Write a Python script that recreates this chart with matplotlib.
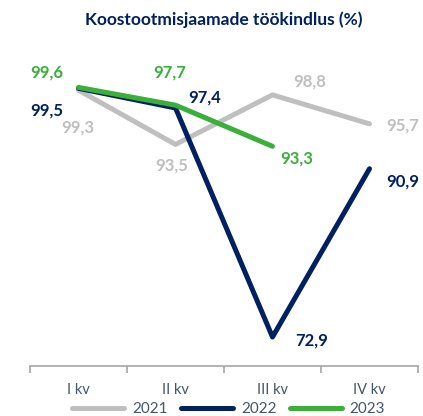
import matplotlib.pyplot as plt

plt.rcParams['font.family'] = ['Lato', 'DejaVu Sans']

quarters = ['I kv', 'II kv', 'III kv', 'IV kv']
y2021 = [99.3, 93.5, 98.8, 95.7]
y2022 = [99.5, 97.4, 72.9, 90.9]
y2023 = [99.6, 97.7, 93.3]

gray = '#BFBFBF'
navy = '#002060'
green = '#3AAF3A'
textc = '#44546A'

# label offsets in pixels
off2021 = [(-1, -37), (-4, -21), (37, 13), (33, -2)]
off2022 = [(-32, -22), (29, 10), (39, -3), (33, -13)]
off2023 = [(-32, 15), (-6, 33), (24, -12)]

fig = plt.figure(figsize=(4.23, 4.16), dpi=100)
ax = fig.add_axes([30/423, 1-366/416, 388/423, (366-79)/416])

series = [(y2021, gray, '2021', off2021),
          (y2022, navy, '2022', off2022),
          (y2023, green, '2023', off2023)]
for vals, col, name, offs in series:
    xs = list(range(len(vals)))
    ax.plot(xs, vals, color=col, lw=3.6, solid_capstyle='round',
            solid_joinstyle='round', label=name)
    for x, v, o in zip(xs, vals, offs):
        ax.annotate(f'{v:.1f}'.replace('.', ','), (x, v), xytext=o,
                    textcoords='offset pixels', ha='center', va='center',
                    color=col, fontsize=12, fontweight='bold')

ax.set_xlim(-0.5, 3.5)
ax.set_ylim(69.8, 100.5)
ax.set_yticks([])
for s in ['top', 'left', 'right']:
    ax.spines[s].set_visible(False)
ax.spines['bottom'].set_color('#A6A6A6')
ax.spines['bottom'].set_linewidth(1.2)
ax.set_xticks(range(4))
ax.set_xticklabels(quarters, color=textc, fontsize=10.5)
ax.tick_params(axis='x', which='major', length=0, pad=12)
ax.set_xticks([-0.5, 0.5, 1.5, 2.5, 3.5], minor=True)
ax.tick_params(axis='x', which='minor', length=5, width=1.2, color='#A6A6A6')

fig.text(0.53, 1-20/416, 'Koostootmisjaamade töökindlus (%)', ha='center',
         va='center', color=navy, fontsize=12.5, fontweight='bold')

leg = fig.legend(loc='center', bbox_to_anchor=(0.541, 7/416), ncol=3,
                 frameon=False, fontsize=11, handlelength=3.4,
                 columnspacing=0.9, handletextpad=0.5)
for t in leg.get_texts():
    t.set_color(textc)

fig.savefig('out.png', dpi=100)
